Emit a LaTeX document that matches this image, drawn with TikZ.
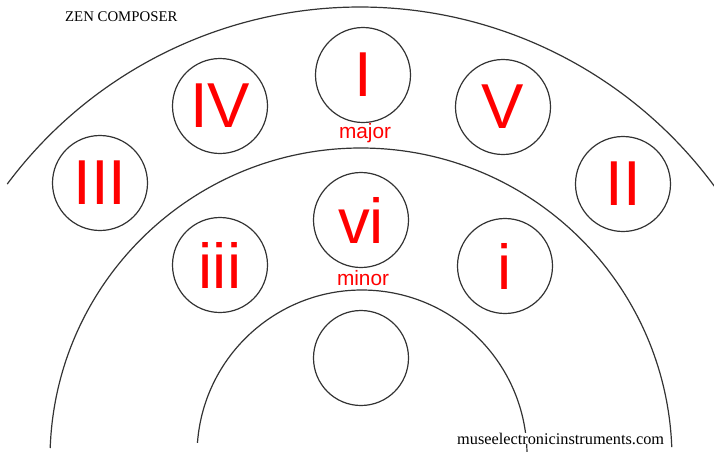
\documentclass[tikz,border=0pt]{standalone}
\usepackage{fontspec}
\setmainfont{Liberation Serif}
\newfontfamily\numfont{Liberation Sans}
\begin{document}
\begin{tikzpicture}[x=1pt,y=-1pt,
  ring/.style={line width=1.2pt, draw=black!80},
  chord/.style={circle, draw=black!80, line width=1.2pt, minimum size=95pt, inner sep=0pt, text=red, font=\numfont\fontsize{63.5}{64}\selectfont},
  lbl/.style={text=red, font=\numfont\fontsize{20.8}{21}\selectfont, inner sep=0pt, anchor=base},
  credit/.style={inner sep=0pt, anchor=base west, text=black}]
\useasboundingbox (0,0) rectangle (714,451);
% rings
\draw[ring] (360,447) ++(-143.3:440) arc[start angle=-143.3, end angle=-36.3, radius=440];
\draw[ring] (361,459) ++(-177.97:311) arc[start angle=-177.97, end angle=-2.2, radius=311];
\draw[ring] (362,455) ++(-175.8:165) arc[start angle=-175.8, end angle=0, radius=165];
% chord circles
\node[chord] (I) at (363,75) {I};
\node[chord] (IV) at (220,106) {IV};
\node[chord] (V) at (503,107) {V};
\node[chord] (III) at (100,183) {III};
\node[chord] (II) at (623,184) {II};
\node[chord] (vi) at (361,220) {vi};
\node[chord] (iii) at (220,265) {iii};
\node[chord] (i) at (505,266) {i};
\node[chord] (blank) at (361,358) {};
% labels
\node[lbl] (major) at (365,138.5) {major};
\node[lbl] (minor) at (363,285) {minor};
\node[credit, font=\fontsize{14.8}{15}\selectfont] (title) at (65,21) {ZEN COMPOSER};
\node[credit, fill=white, font=\fontsize{16.3}{17}\selectfont] (site) at (457,444) {museelectronicinstruments.com};
\end{tikzpicture}
\end{document}
